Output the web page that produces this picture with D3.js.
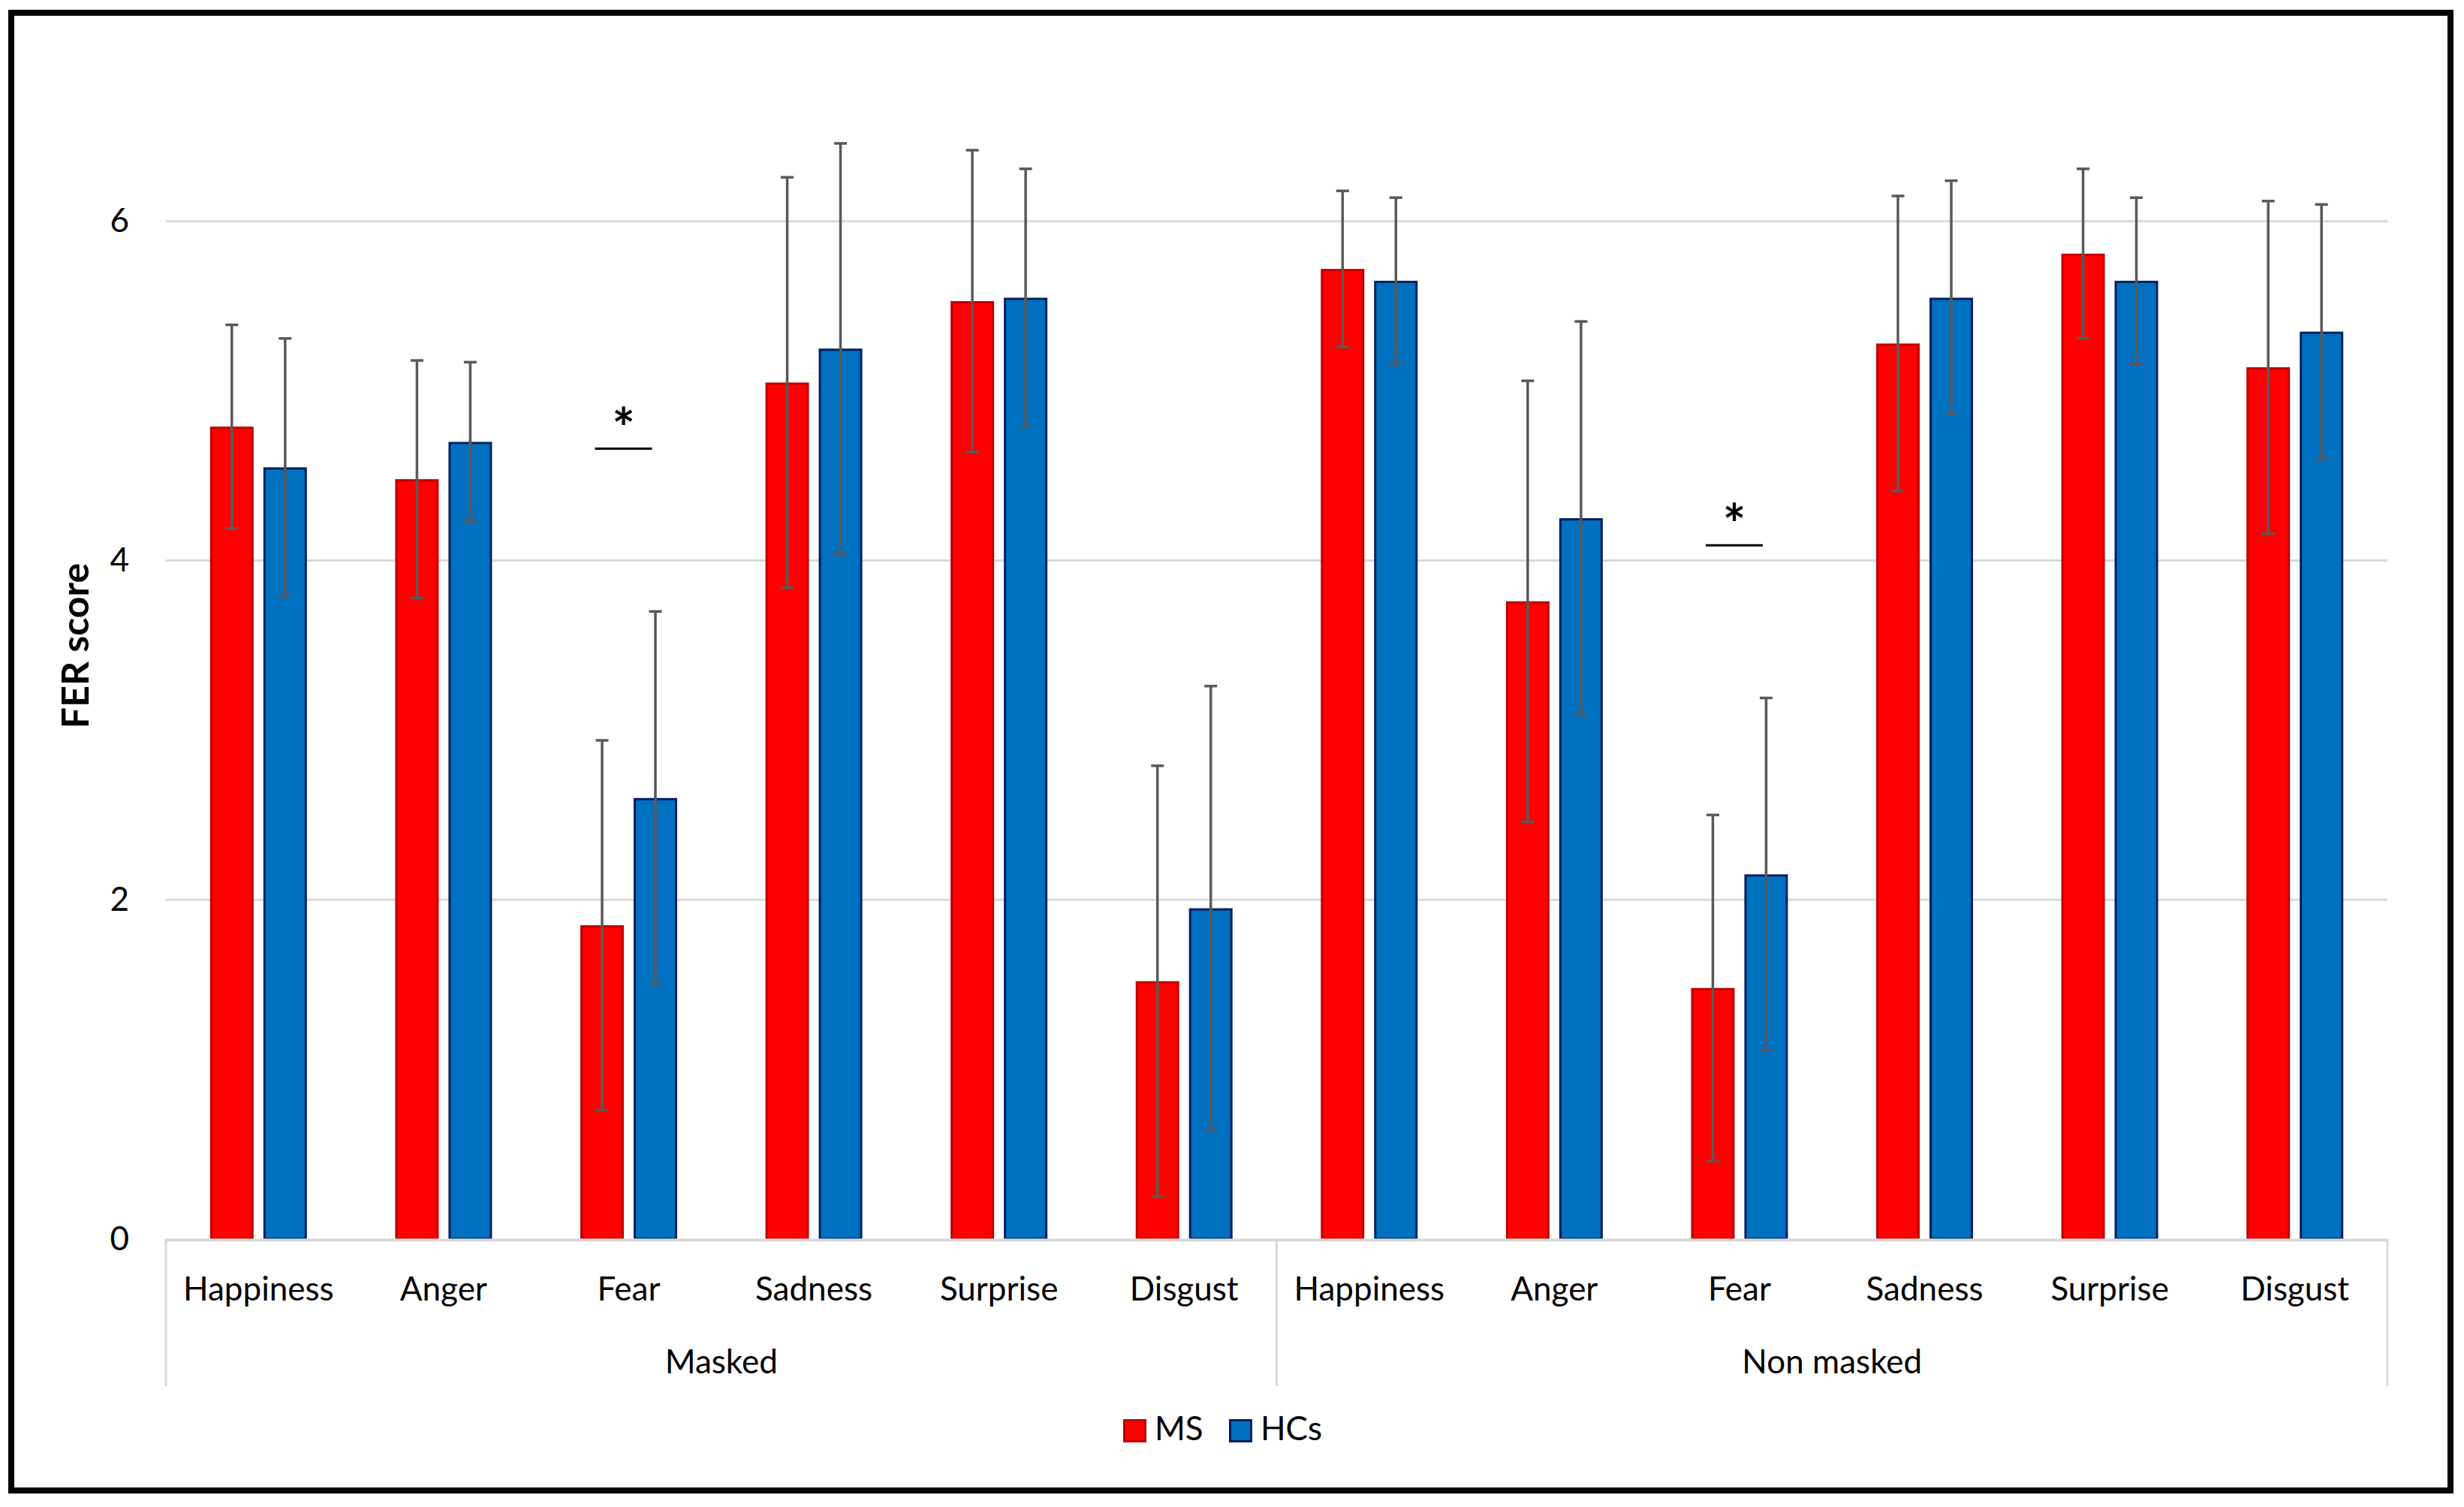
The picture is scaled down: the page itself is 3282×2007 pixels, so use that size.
<!DOCTYPE html>
<html lang="en">
<head>
<meta charset="UTF-8">
<script src="https://d3js.org/d3.v7.min.js"></script>
<title>FER score</title>
<style>
  body { margin: 0; background: #fff; }
  text { font-family: Lato, "Open Sans", sans-serif; fill: #000; }
</style>
</head>
<body>
<script>
// data
var groups = ["Masked", "Non masked"];
var emotions = ["Happiness", "Anger", "Fear", "Sadness", "Surprise", "Disgust"];
var series = ["MS", "HCs"];
var colors = ["#FF0000", "#0070C0"];
var borders = ["#C00000", "#002060"];

// means, masked then non masked
var msMean  = [4.79, 4.48, 1.85, 5.05, 5.53, 1.52,   5.72, 3.76, 1.48, 5.28, 5.81, 5.14];
var hcMean  = [4.55, 4.70, 2.60, 5.25, 5.55, 1.95,   5.65, 4.25, 2.15, 5.55, 5.65, 5.35];
// standard deviations (error bars)
var msSd    = [0.60, 0.70, 1.09, 1.21, 0.89, 1.27,   0.46, 1.30, 1.02, 0.87, 0.50, 0.98];
var hcSd    = [0.76, 0.47, 1.10, 1.21, 0.76, 1.31,   0.49, 1.16, 1.04, 0.69, 0.49, 0.75];

var yTicks = [0, 2, 4, 6];

// significance marks
var sigGroup = ["Masked", "Non masked"];
var sigEmotion = ["Fear", "Fear"];
var sigLevel = [4.66, 4.09];

var W = 3282, H = 2007;
var pLeft = 221, pRight = 3180, pBottom = 1650, pTop = 69;

var svg = d3.select("body").append("svg")
    .attr("width", W).attr("height", H);

// outer frame
svg.append("rect").attr("x", 15).attr("y", 17).attr("width", 3249).attr("height", 1968)
    .attr("fill", "none").attr("stroke", "#000").attr("stroke-width", 8);

var cats = [];
groups.forEach(function(g) {
    emotions.forEach(function(e) { cats.push(g + "|" + e); });
});

var rows = cats.map(function(c, i) {
    return { key: c, group: c.split("|")[0], emo: c.split("|")[1],
             vals: [{s: 0, m: msMean[i], sd: msSd[i]}, {s: 1, m: hcMean[i], sd: hcSd[i]}] };
});

var x0 = d3.scaleBand().domain(cats).range([pLeft, pRight]);
var bw = x0.bandwidth();
var x1 = d3.scaleBand().domain([0, 1])
    .range([(bw - 129) / 2, (bw + 129) / 2]).paddingInner(13 / 71);
var y = d3.scaleLinear().domain([0, 7]).range([pBottom, pTop]);
var xg = d3.scaleBand().domain(groups).range([pLeft, pRight]);

// gridlines
svg.append("g").selectAll("line").data(yTicks.filter(function(d) { return d > 0; }))
  .enter().append("line")
    .attr("x1", pLeft).attr("x2", pRight)
    .attr("y1", function(d) { return y(d); }).attr("y2", function(d) { return y(d); })
    .attr("stroke", "#D9D9D9").attr("stroke-width", 3);

// y axis labels
var yAxis = d3.axisLeft(y).tickValues(yTicks).tickSize(0).tickPadding(49).tickFormat(d3.format("d"));
var ya = svg.append("g").attr("transform", "translate(" + pLeft + ",0)").call(yAxis);
ya.select(".domain").remove();
ya.selectAll("text").style("font-family", "Lato, sans-serif").attr("font-size", 44).attr("fill", "#000");

svg.append("text")
    .attr("transform", "translate(118,860) rotate(-90)")
    .attr("text-anchor", "middle")
    .attr("font-size", 50).attr("font-weight", "bold")
    .text("FER score");

// bars
var gBars = svg.append("g").selectAll("g").data(rows).enter().append("g")
    .attr("transform", function(d) { return "translate(" + x0(d.key) + ",0)"; });

gBars.selectAll("rect").data(function(d) { return d.vals; }).enter().append("rect")
    .attr("x", function(d) { return x1(d.s) + 1.5; })
    .attr("y", function(d) { return y(d.m) + 1.5; })
    .attr("width", x1.bandwidth() - 3)
    .attr("height", function(d) { return y(0) - y(d.m) - 1.5; })
    .attr("fill", function(d) { return colors[d.s]; })
    .attr("stroke", function(d) { return borders[d.s]; })
    .attr("stroke-width", 3);

// error bars
var eb = gBars.selectAll("g.err").data(function(d) { return d.vals; }).enter().append("g")
    .attr("class", "err")
    .attr("stroke", "#595959").attr("stroke-width", 3.5);
eb.append("line")
    .attr("x1", function(d) { return x1(d.s) + x1.bandwidth() / 2; })
    .attr("x2", function(d) { return x1(d.s) + x1.bandwidth() / 2; })
    .attr("y1", function(d) { return y(d.m + d.sd); })
    .attr("y2", function(d) { return y(d.m - d.sd); });
[1, -1].forEach(function(sign) {
    eb.append("line")
        .attr("x1", function(d) { return x1(d.s) + x1.bandwidth() / 2 - 8.5; })
        .attr("x2", function(d) { return x1(d.s) + x1.bandwidth() / 2 + 8.5; })
        .attr("y1", function(d) { return y(d.m + sign * d.sd); })
        .attr("y2", function(d) { return y(d.m + sign * d.sd); });
});

// category axis
svg.append("line").attr("x1", pLeft).attr("x2", pRight)
    .attr("y1", y(0) + 1.5).attr("y2", y(0) + 1.5)
    .attr("stroke", "#D9D9D9").attr("stroke-width", 4);
var seps = [pLeft, xg("Non masked"), pRight];
svg.append("g").selectAll("line").data(seps).enter().append("line")
    .attr("x1", function(d) { return d; }).attr("x2", function(d) { return d; })
    .attr("y1", y(0)).attr("y2", 1846)
    .attr("stroke", "#D9D9D9").attr("stroke-width", 3);

svg.append("g").selectAll("text").data(rows).enter().append("text")
    .attr("x", function(d) { return x0(d.key) + bw / 2; })
    .attr("y", 1732)
    .attr("text-anchor", "middle").attr("font-size", 44)
    .text(function(d) { return d.emo; });

svg.append("g").selectAll("text").data(groups).enter().append("text")
    .attr("x", function(d) { return xg(d) + xg.bandwidth() / 2; })
    .attr("y", 1829)
    .attr("text-anchor", "middle").attr("font-size", 44)
    .text(function(d) { return d; });

// significance
sigGroup.forEach(function(g, i) {
    var cx = x0(g + "|" + sigEmotion[i]) + bw / 2 - 7;
    svg.append("line")
        .attr("x1", cx - 38).attr("x2", cx + 38)
        .attr("y1", y(sigLevel[i])).attr("y2", y(sigLevel[i]))
        .attr("stroke", "#000").attr("stroke-width", 3);
    svg.append("text")
        .attr("x", cx).attr("y", y(sigLevel[i]) - 1)
        .attr("text-anchor", "middle").attr("font-size", 72).attr("font-weight", "bold")
        .text("*");
});

// legend
var leg = svg.append("g").selectAll("g").data(series).enter().append("g")
    .attr("transform", function(d, i) { return "translate(" + (1496 + i * 141) + ",1890)"; });
leg.append("rect").attr("x", 1.5).attr("y", 1.5).attr("width", 28).attr("height", 28)
    .attr("fill", function(d, i) { return colors[i]; })
    .attr("stroke", function(d, i) { return borders[i]; }).attr("stroke-width", 3);
leg.append("text").attr("x", 42).attr("y", 28).attr("font-size", 44)
    .text(function(d) { return d; });
</script>
</body>
</html>
